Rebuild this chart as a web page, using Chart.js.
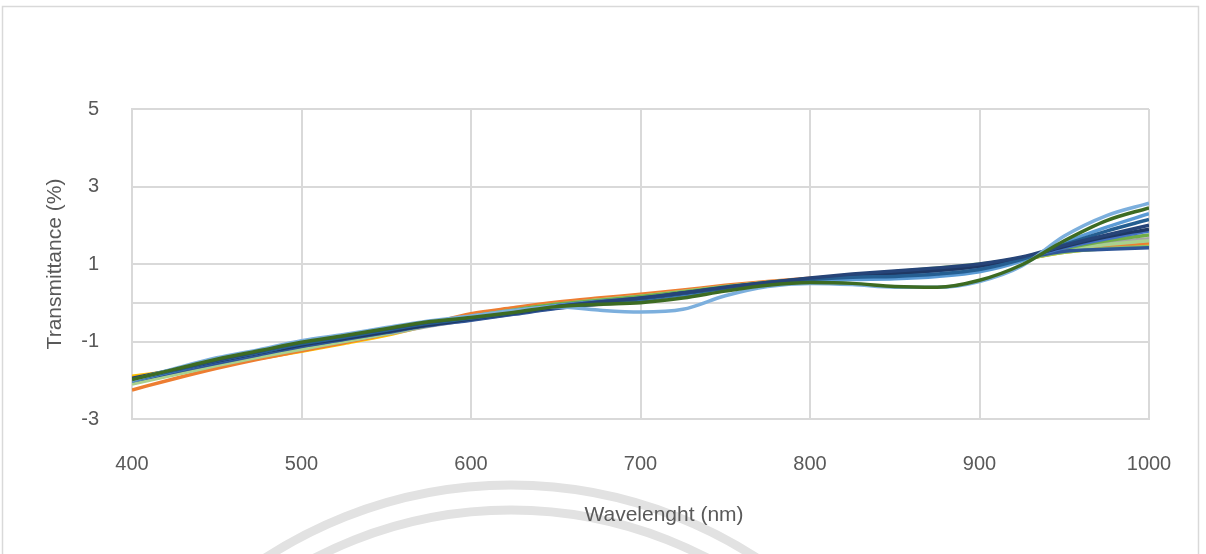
<!DOCTYPE html>
<html>
<head>
<meta charset="utf-8">
<title>Transmittance</title>
<script src="https://cdn.jsdelivr.net/npm/chart.js@4.4.1/dist/chart.umd.min.js"></script>
<style>
    html, body { margin: 0; padding: 0; background: #ffffff; }
    #wrap { position: relative; width: 1206px; height: 554px; }
</style>
</head>
<body>
<div id="wrap"><canvas id="spectrumChart"></canvas></div>
<script>
// Wavelength grid (nm)
const wavelengths = [400, 425, 450, 475, 500, 525, 550, 575, 600, 625, 650, 675, 700,
                     725, 750, 775, 800, 825, 850, 875, 900, 925, 950, 975, 1000];

// Transmittance (%) per sample, one value per wavelength
const darkGreen  = [-1.98, -1.72, -1.46, -1.24, -1.02, -0.85, -0.67, -0.49, -0.38, -0.25, -0.10, -0.04, 0.00, 0.12, 0.30, 0.45, 0.52, 0.50, 0.42, 0.40, 0.58, 0.98, 1.60, 2.12, 2.45];
const lightBlue1 = [-2.00, -1.70, -1.42, -1.21, -0.98, -0.82, -0.64, -0.47, -0.34, -0.20, -0.10, -0.19, -0.24, -0.17, 0.18, 0.42, 0.50, 0.47, 0.40, 0.40, 0.55, 0.95, 1.72, 2.25, 2.57];
const navy       = [-1.95, -1.72, -1.48, -1.25, -1.00, -0.84, -0.67, -0.50, -0.37, -0.24, -0.10, 0.02, 0.12, 0.25, 0.40, 0.52, 0.64, 0.74, 0.82, 0.90, 1.00, 1.18, 1.48, 1.75, 2.00];
const navy2      = [-2.00, -1.75, -1.50, -1.28, -1.06, -0.89, -0.71, -0.53, -0.40, -0.26, -0.10, 0.01, 0.10, 0.23, 0.37, 0.50, 0.60, 0.66, 0.68, 0.74, 0.86, 1.12, 1.50, 1.85, 2.15];
const lightBlue2 = [-2.02, -1.75, -1.48, -1.27, -1.04, -0.87, -0.69, -0.51, -0.36, -0.22, -0.08, 0.02, 0.10, 0.22, 0.36, 0.48, 0.56, 0.60, 0.62, 0.68, 0.80, 1.08, 1.55, 1.95, 2.30];
const darkBlue   = [-1.97, -1.74, -1.51, -1.30, -1.09, -0.92, -0.75, -0.57, -0.42, -0.27, -0.11, 0.01, 0.11, 0.25, 0.39, 0.52, 0.62, 0.70, 0.76, 0.84, 0.95, 1.16, 1.45, 1.70, 1.90];
const blue       = [-2.00, -1.76, -1.52, -1.30, -1.08, -0.90, -0.72, -0.53, -0.38, -0.23, -0.08, 0.03, 0.12, 0.25, 0.38, 0.50, 0.60, 0.70, 0.78, 0.87, 0.97, 1.15, 1.42, 1.65, 1.85];
const navy3      = [-2.02, -1.79, -1.56, -1.34, -1.13, -0.95, -0.77, -0.59, -0.45, -0.30, -0.15, -0.03, 0.07, 0.21, 0.36, 0.48, 0.58, 0.66, 0.74, 0.83, 0.94, 1.14, 1.33, 1.38, 1.42];
const green      = [-2.00, -1.78, -1.55, -1.33, -1.12, -0.94, -0.76, -0.55, -0.35, -0.19, -0.04, 0.06, 0.16, 0.28, 0.41, 0.52, 0.62, 0.70, 0.78, 0.87, 0.98, 1.16, 1.40, 1.60, 1.75];
const lightGreen = [-2.10, -1.86, -1.62, -1.40, -1.20, -1.00, -0.80, -0.58, -0.36, -0.19, -0.04, 0.07, 0.17, 0.29, 0.42, 0.53, 0.62, 0.72, 0.80, 0.90, 1.00, 1.15, 1.36, 1.50, 1.60];
const lightGreen2= [-2.08, -1.84, -1.60, -1.38, -1.17, -0.98, -0.79, -0.58, -0.39, -0.23, -0.07, 0.04, 0.14, 0.27, 0.40, 0.51, 0.60, 0.68, 0.76, 0.85, 0.96, 1.12, 1.30, 1.40, 1.45];
const gray       = [-2.05, -1.82, -1.59, -1.38, -1.17, -0.99, -0.81, -0.61, -0.44, -0.29, -0.14, -0.05, 0.03, 0.17, 0.34, 0.48, 0.56, 0.62, 0.70, 0.80, 0.92, 1.12, 1.38, 1.55, 1.65];
const orange     = [-2.25, -1.96, -1.69, -1.45, -1.24, -1.03, -0.81, -0.55, -0.28, -0.13, 0.01, 0.12, 0.22, 0.33, 0.45, 0.55, 0.63, 0.70, 0.78, 0.87, 0.97, 1.12, 1.32, 1.45, 1.55];
const yellow     = [-1.90, -1.76, -1.61, -1.44, -1.25, -1.05, -0.84, -0.58, -0.31, -0.16, -0.01, 0.10, 0.19, 0.31, 0.43, 0.53, 0.62, 0.70, 0.80, 0.88, 0.98, 1.12, 1.30, 1.42, 1.50];

// Axis ticks
const xTickStep = 100;
const yTickValues = [-3, -1, 1, 3, 5];

const xTitle = "Wavelenght (nm)";
const yTitle = "Transmittance (%)";

// first entry is painted on top
const series = [
    { name: "S1",  values: darkGreen,   color: "#3d6b22", width: 3.5 },
    { name: "S2",  values: lightBlue1,  color: "#7cafdd", width: 3.5 },
    { name: "S3",  values: navy,        color: "#264478", width: 3.5 },
    { name: "S4",  values: navy2,       color: "#255e91", width: 3.5 },
    { name: "S5",  values: lightBlue2,  color: "#5b9bd5", width: 3.5 },
    { name: "S6",  values: darkBlue,    color: "#1f3864", width: 3.5 },
    { name: "S7",  values: blue,        color: "#4472c4", width: 3.5 },
    { name: "S8",  values: navy3,       color: "#2f5597", width: 3.5 },
    { name: "S9",  values: green,       color: "#70ad47", width: 3.5 },
    { name: "S10", values: lightGreen,  color: "#a9d18e", width: 3.5 },
    { name: "S11", values: lightGreen2, color: "#8cc168", width: 3.5 },
    { name: "S12", values: gray,        color: "#a5a5a5", width: 3.5 },
    { name: "S13", values: orange,      color: "#ed7d31", width: 3.5 },
    { name: "S14", values: yellow,      color: "#ffc000", width: 3.5 }
];

const FONT = "'Liberation Sans', Arial, sans-serif";
const TEXT = "#595959";
const GRID = "#d9d9d9";

// frame, background arcs and axis titles
const decor = {
    id: "decor",
    beforeDraw(chart) {
        const ctx = chart.ctx;
        ctx.save();
        ctx.strokeStyle = GRID;
        ctx.lineWidth = 1.5;
        ctx.beginPath();
        ctx.moveTo(2.5, 554);
        ctx.lineTo(2.5, 6.5);
        ctx.lineTo(1198.5, 6.5);
        ctx.lineTo(1198.5, 554);
        ctx.stroke();

        ctx.strokeStyle = "#e2e2e2";
        ctx.lineWidth = 9;
        [450, 425].forEach((r) => {
            ctx.beginPath();
            ctx.arc(511, 935, r, Math.PI, 2 * Math.PI);
            ctx.stroke();
        });
        ctx.restore();
    },
    afterDraw(chart) {
        const ctx = chart.ctx;
        const area = chart.chartArea;
        ctx.save();
        ctx.fillStyle = TEXT;
        ctx.font = "21px " + FONT;
        ctx.textAlign = "center";
        ctx.textBaseline = "middle";
        ctx.fillText(xTitle, 664, 515);
        ctx.translate(55, (area.top + area.bottom) / 2);
        ctx.rotate(-Math.PI / 2);
        ctx.fillText(yTitle, 0, 0);
        ctx.restore();
    }
};

const ctx = document.getElementById("spectrumChart").getContext("2d");
new Chart(ctx, {
    type: "line",
    data: {
        labels: wavelengths,
        datasets: series.map((s) => ({
            label: s.name,
            data: s.values.map((v, i) => ({ x: wavelengths[i], y: v })),
            borderColor: s.color,
            backgroundColor: s.color,
            borderWidth: s.width,
            pointRadius: 0,
            fill: false,
            cubicInterpolationMode: "monotone"
        }))
    },
    options: {
        responsive: true,
        maintainAspectRatio: false,
        animation: false,
        layout: { padding: { left: 0, top: 109, right: 57, bottom: 0 } },
        plugins: {
            legend: { display: false },
            tooltip: { enabled: false }
        },
        scales: {
            x: {
                type: "linear",
                min: 400,
                max: 1000,
                afterFit: (scale) => { scale.height = 135; },
                grid: { color: GRID, lineWidth: 2, drawTicks: false },
                border: { color: GRID, width: 2 },
                ticks: {
                    stepSize: xTickStep,
                    padding: 33,
                    color: TEXT,
                    font: { family: FONT, size: 20 },
                    callback: (v) => String(v)
                }
            },
            y: {
                min: -3,
                max: 5,
                afterFit: (scale) => { scale.width = 132; },
                // zero line gets a gridline but no label
                afterBuildTicks: (scale) => {
                    scale.ticks = [...yTickValues, 0].sort((a, b) => a - b).map((v) => ({ value: v }));
                },
                grid: { color: GRID, lineWidth: 2, drawTicks: false },
                border: { color: GRID, width: 2 },
                ticks: {
                    padding: 33,
                    color: TEXT,
                    font: { family: FONT, size: 20 },
                    callback: (v) => (v === 0 ? "" : String(v))
                }
            }
        }
    },
    plugins: [decor]
});
</script>
</body>
</html>
